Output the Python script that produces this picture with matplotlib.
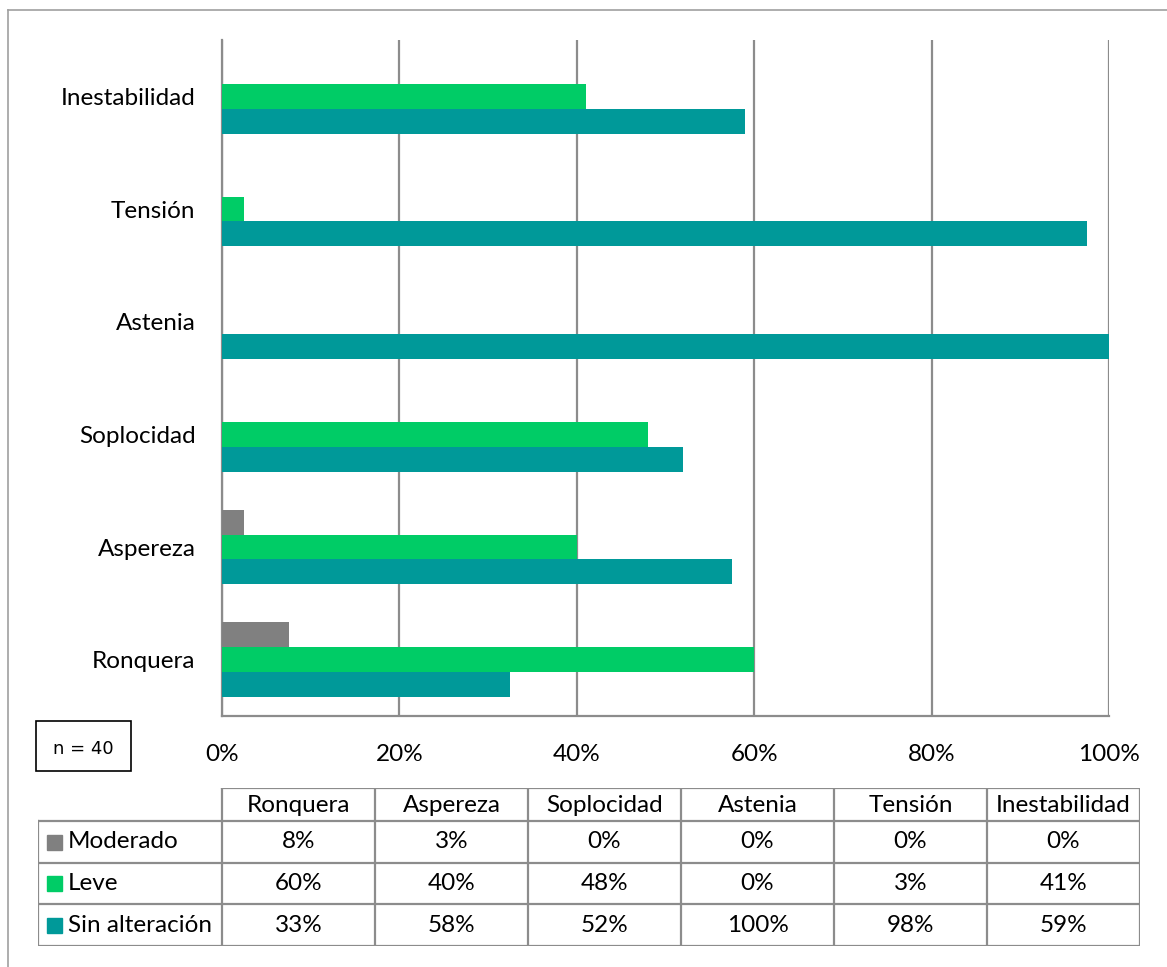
import matplotlib
matplotlib.use("Agg")
import matplotlib.pyplot as plt
from matplotlib.patches import Rectangle
from matplotlib.lines import Line2D

plt.rcParams['font.family'] = ['Lato', 'DejaVu Sans']

categorias = ['Ronquera', 'Aspereza', 'Soplocidad', 'Astenia', 'Tensión', 'Inestabilidad']
moderado = [7.5, 2.5, 0, 0, 0, 0]
leve = [60, 40, 48, 0, 2.5, 41]
sin_alteracion = [32.5, 57.5, 52, 100, 97.5, 59]
series = ['Moderado', 'Leve', 'Sin alteración']
colores = ['#808080', '#00CC66', '#009999']
ticks = [0, 20, 40, 60, 80, 100]

FS = 17.5
W, H = 1167, 967
fig = plt.figure(figsize=(W / 100, H / 100), dpi=100)

def px(x0, y0, x1, y1):
    return [x0 / W, 1 - y1 / H, (x1 - x0) / W, (y1 - y0) / H]

def pct(v):
    # redondeo como Excel (0.5 hacia arriba)
    return f'{int(v + 0.5)}%'

# marco exterior (solo se ven arriba e izquierda)
fig.add_artist(Line2D([8 / W, 8 / W], [0, 1 - 10 / H], color='#a0a0a0', lw=1.2))
fig.add_artist(Line2D([8 / W, 1], [1 - 10 / H, 1 - 10 / H], color='#a0a0a0', lw=1.2))

ax = fig.add_axes(px(222, 40, 1109, 716))
y = list(range(len(categorias)))
h = 0.221
valores = [moderado, leve, sin_alteracion]
desp = [h, 0, -h]
for vals, col, d in zip(valores, colores, desp):
    ax.barh([v + d for v in y], vals, height=h, color=col, zorder=3)

ax.set_xlim(0, 100)
ax.set_ylim(-0.5, 5.5)
ax.set_yticks(y)
ax.set_yticklabels(categorias, fontsize=FS)
ax.set_xticks(ticks)
ax.set_xticklabels([f'{t}%' for t in ticks], fontsize=FS)
ax.tick_params(length=0)
ax.tick_params(axis='y', pad=19)
ax.tick_params(axis='x', pad=20)
ax.grid(axis='x', color='#8c8c8c', lw=1.6, zorder=0)
for s in ['top', 'right']:
    ax.spines[s].set_visible(False)
for s in ['left', 'bottom']:
    ax.spines[s].set_color('#8c8c8c')
    ax.spines[s].set_linewidth(1.6)

# caja n = 40
fig.add_artist(Rectangle((36 / W, 1 - 771 / H), 95 / W, 50 / H, transform=fig.transFigure,
                         fill=False, ec='black', lw=1.2))
fig.text(83.5 / W, 1 - 749 / H, 'n = 40', fontsize=13, ha='center', va='center',
         family=['Liberation Sans Narrow', 'DejaVu Sans'])

# tabla de datos
tx = fig.add_axes(px(38, 788, 1140, 946))
tx.set_xlim(38, 1140)
tx.set_ylim(946, 788)
tx.axis('off')
col_x = [38, 222] + [222 + 153 * (i + 1) for i in range(6)]
col_x[-1] = 1140
row_y = [788, 821, 863, 904, 946]
lc = '#8c8c8c'
tx.plot([222, 1140], [788, 788], color=lc, lw=1.6)
for yy in row_y[1:]:
    tx.plot([38, 1140], [yy, yy], color=lc, lw=1.6)
tx.plot([38, 38], [821, 946], color=lc, lw=1.6)
for xx in col_x[1:]:
    tx.plot([xx, xx], [788, 946], color=lc, lw=1.6)
for i, c in enumerate(categorias):
    xc = (col_x[i + 1] + col_x[i + 2]) / 2
    tx.text(xc, (row_y[0] + row_y[1]) / 2 + 1, c, ha='center', va='center', fontsize=FS)
    for j, vals in enumerate(valores):
        tx.text(xc, (row_y[j + 1] + row_y[j + 2]) / 2, pct(vals[i]),
                ha='center', va='center', fontsize=FS)
for j, (nombre, col) in enumerate(zip(series, colores)):
    yc = (row_y[j + 1] + row_y[j + 2]) / 2
    tx.add_patch(Rectangle((47, yc - 7.5), 15, 15, color=col))
    tx.text(68, yc, nombre, ha='left', va='center', fontsize=FS)

fig.savefig('out.png', dpi=100, facecolor='white')
